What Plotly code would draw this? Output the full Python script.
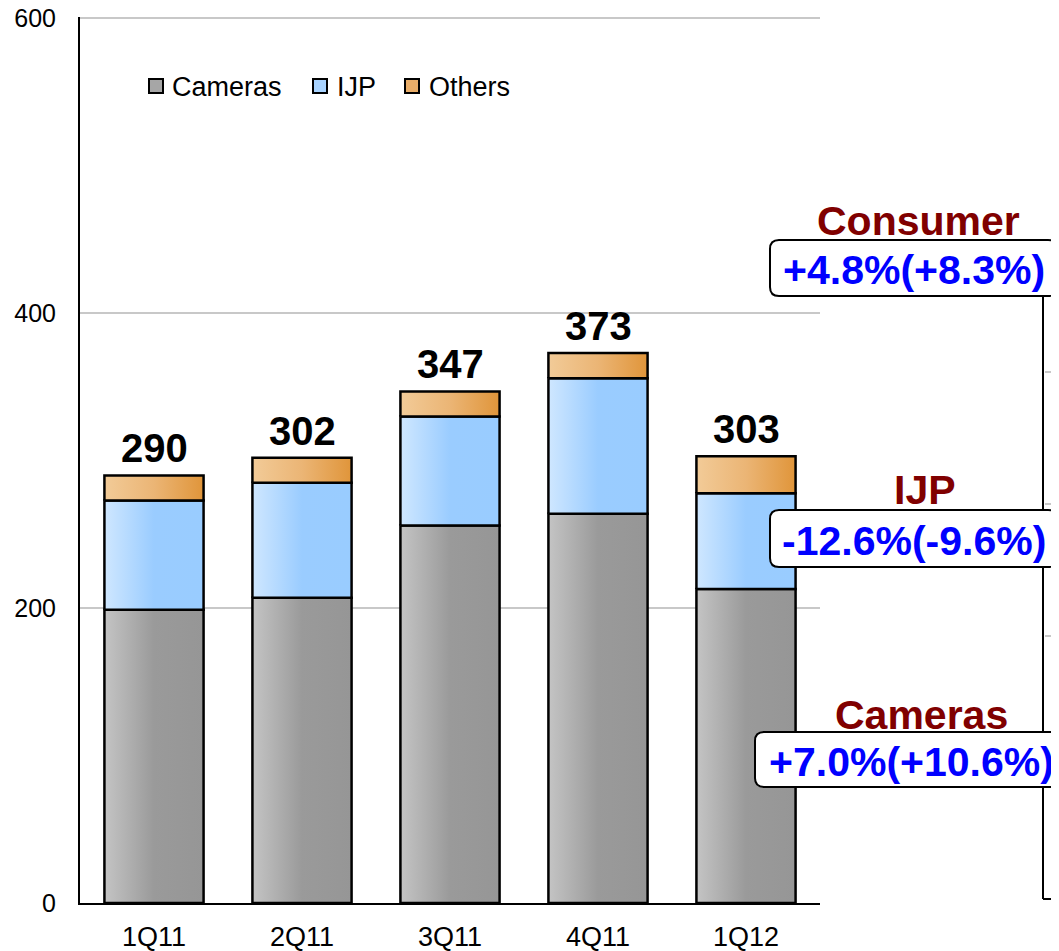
import plotly.graph_objects as go

# ---- data ----
categories = ["1Q11", "2Q11", "3Q11", "4Q11", "1Q12"]
series_names = ["Cameras", "IJP", "Others"]
cameras = [199, 207, 256, 264, 213]
ijp = [74, 78, 74, 92, 65]
others = [17, 17, 17, 17, 25]
totals = [290, 302, 347, 373, 303]
y_ticks = [0, 200, 400, 600]

growth_labels = ["Consumer", "IJP", "Cameras"]
growth_texts = ["+4.8%(+8.3%)", "-12.6%(-9.6%)", "+7.0%(+10.6%)"]

# ---- styles ----
OFF = 8  # page body margin
W, H = 1059 - OFF, 951 - OFF
L, T = 80 - OFF, 17 - OFF
PW, PH = 740, 886
R, B = W - L - PW, H - T - PH
FONT = "Liberation Sans, Arial, sans-serif"
gradients = {
    "Cameras": [[0, "#c4c4c4"], [0.5, "#9a9a9a"], [1, "#969696"]],
    "IJP": [[0, "#cfe7ff"], [0.5, "#9accff"], [1, "#99ccff"]],
    "Others": [[0, "#f2cb98"], [0.5, "#ebb575"], [1, "#e0953a"]],
}
legend_colors = {"Cameras": "#a6a6a6", "IJP": "#a8d3ff", "Others": "#e9ad68"}


def xp(px):
    return (px - OFF - L) / PW


def yp(py):
    return (T + PH - (py - OFF)) / PH


fig = go.Figure()
half = 0.335
series_vals = [cameras, ijp, others]
for i, cat in enumerate(categories):
    base = 0
    for name, vals in zip(series_names, series_vals):
        v = vals[i]
        fig.add_trace(go.Scatter(
            x=[i - half, i + half, i + half, i - half, i - half],
            y=[base, base, base + v, base + v, base],
            mode="lines", fill="toself",
            line=dict(color="black", width=2.5),
            fillgradient=dict(type="horizontal", colorscale=gradients[name]),
            name=name, showlegend=False,
            hovertemplate=f"{cat} {name}: {v}<extra></extra>",
        ))
        base += v

annotations = []
# total labels
for i, t in enumerate(totals):
    annotations.append(dict(x=i, y=t, xref="x", yref="y", text=f"<b>{t}</b>",
                            showarrow=False, xanchor="center", yanchor="bottom", yshift=3,
                            font=dict(family=FONT, size=40, color="black")))

shapes = []
# manual legend
legend_sq_x = [149, 313, 405]
legend_txt_x = [170, 335, 427]
for name, sx, tx in zip(series_names, legend_sq_x, legend_txt_x):
    shapes.append(dict(type="rect", xref="paper", yref="paper",
                       x0=xp(sx), x1=xp(sx + 14), y0=yp(93), y1=yp(79),
                       fillcolor=legend_colors[name], line=dict(color="black", width=2)))
    annotations.append(dict(x=xp(tx), y=yp(87), xref="paper", yref="paper",
                            text=name, showarrow=False, xanchor="left", yanchor="middle",
                            font=dict(family=FONT, size=27, color="black")))


def rrect(x0, y0, x1, y1, r=9):
    pts = [
        ("M", [(x0 + r, y0)]), ("L", [(x1 - r, y0)]), ("Q", [(x1, y0), (x1, y0 + r)]),
        ("L", [(x1, y1 - r)]), ("Q", [(x1, y1), (x1 - r, y1)]),
        ("L", [(x0 + r, y1)]), ("Q", [(x0, y1), (x0, y1 - r)]),
        ("L", [(x0, y0 + r)]), ("Q", [(x0, y0), (x0 + r, y0)]),
    ]
    s = ""
    for cmd, ps in pts:
        s += cmd + " ".join(f"{xp(a):.5f},{yp(b):.5f}" for a, b in ps) + " "
    return s + "Z"


# right side partial axis of neighbouring chart
shapes.append(dict(type="line", xref="paper", yref="paper",
                   x0=xp(1043), x1=xp(1043), y0=yp(296), y1=yp(899),
                   line=dict(color="black", width=2)))
shapes.append(dict(type="line", xref="paper", yref="paper",
                   x0=xp(1043), x1=xp(1062), y0=yp(899), y1=yp(899),
                   line=dict(color="black", width=2)))
for gy in [372, 504, 636]:
    shapes.append(dict(type="line", xref="paper", yref="paper",
                       x0=xp(1045), x1=xp(1062), y0=yp(gy), y1=yp(gy),
                       line=dict(color="#c8c8c8", width=2)))

# growth boxes
label_pos = [(918, 221), (925, 490), (921, 715)]
box_pos = [(770, 240, 1057, 296), (770, 510, 1057, 567), (755, 732, 1075, 787)]
for lab, txt, (lx, ly), (bx0, by0, bx1, by1) in zip(growth_labels, growth_texts, label_pos, box_pos):
    annotations.append(dict(x=xp(lx), y=yp(ly), xref="paper", yref="paper",
                            text=f"<b>{lab}</b>", showarrow=False,
                            xanchor="center", yanchor="middle",
                            font=dict(family=FONT, size=41, color="#800000")))
    shapes.append(dict(type="path", xref="paper", yref="paper",
                       path=rrect(bx0, by0, bx1, by1), fillcolor="white",
                       line=dict(color="black", width=2), layer="above"))
    annotations.append(dict(x=xp((bx0 + min(bx1, 1067)) / 2), y=yp((by0 + by1) / 2 + 2),
                            xref="paper", yref="paper",
                            text=f"<b>{txt}</b>", showarrow=False,
                            xanchor="center", yanchor="middle",
                            font=dict(family=FONT, size=41, color="#0000ff")))

fig.update_layout(
    width=W, height=H,
    margin=dict(l=L, r=R, t=T, b=B, pad=0, autoexpand=False),
    paper_bgcolor="white", plot_bgcolor="white",
    showlegend=False,
    annotations=annotations, shapes=shapes,
    xaxis=dict(range=[-0.5, 4.5], tickvals=list(range(len(categories))),
               ticktext=categories, showgrid=False, zeroline=False,
               showline=True, linecolor="black", linewidth=2, ticks="",
               ticklabelstandoff=9, automargin=False, ticklabeloverflow="allow",
               tickfont=dict(family=FONT, size=27, color="black")),
    yaxis=dict(range=[0, 601], tickvals=y_ticks, showgrid=True,
               gridcolor="#c8c8c8", gridwidth=2, zeroline=False,
               showline=True, linecolor="black", linewidth=2, ticks="",
               ticklabelstandoff=17, automargin=False, ticklabeloverflow="allow",
               tickfont=dict(family=FONT, size=25, color="black")),
)

fig.write_html("out.html")
